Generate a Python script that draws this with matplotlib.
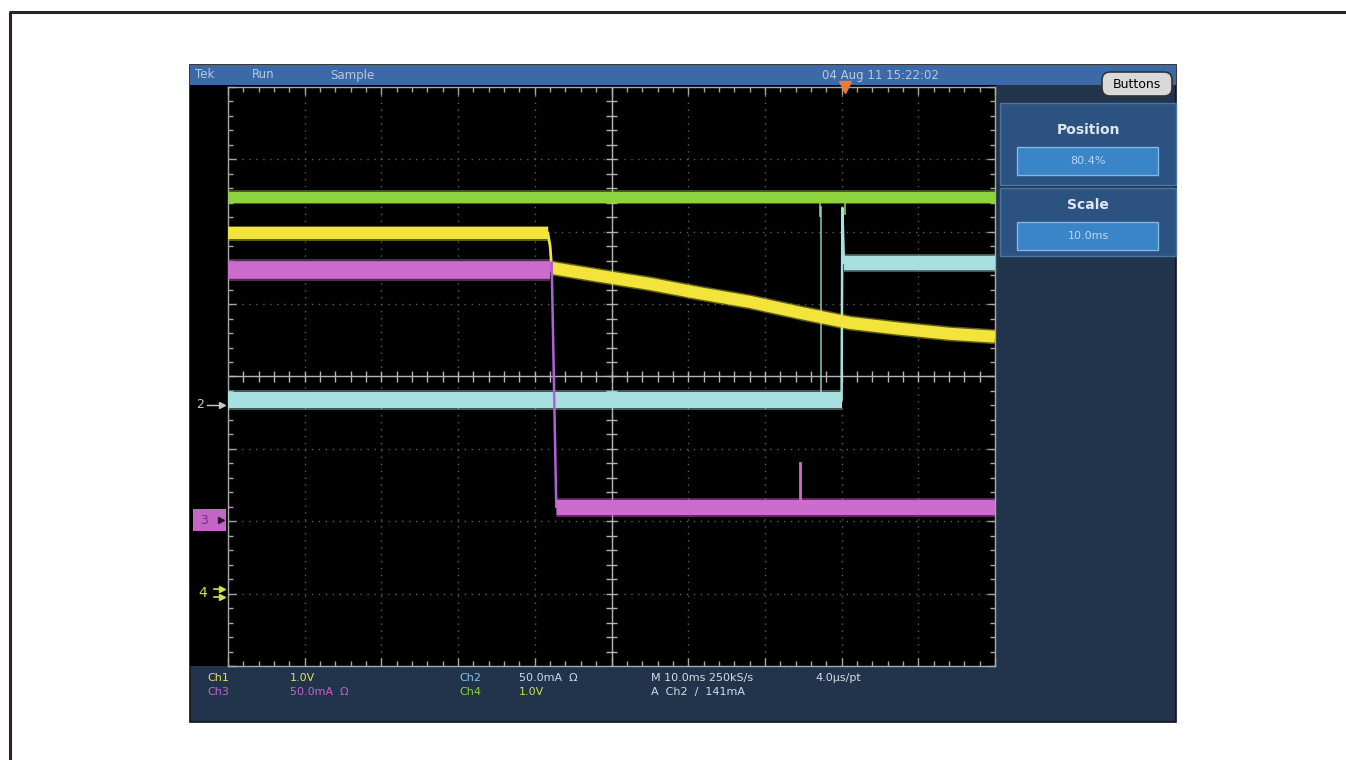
import numpy as np
import matplotlib
matplotlib.use("Agg")
import matplotlib.pyplot as plt
from matplotlib.patches import Rectangle, FancyBboxPatch
from matplotlib.ticker import MultipleLocator

plt.rcParams['font.family'] = ['DejaVu Sans']

# ---------------- data (screen divisions: x 0..10, y -4..4) ----------------
ch4_x = [0.0, 10.0]
ch4_y = [2.48, 2.48]
ch4_glitch_x = [7.72, 8.05]
ch4_glitch_y = [2.22, 2.25]

ch1_pre_x = [0.0, 4.17]
ch1_pre_y = [1.98, 1.98]
ch1_edge_x = [4.17, 4.20, 4.22]
ch1_edge_y = [1.98, 1.80, 1.50]
ch1_post_x = [4.22, 4.85, 5.50, 6.15, 6.81, 7.46, 8.11, 8.76, 9.41, 10.0]
ch1_post_y = [1.50, 1.39, 1.28, 1.15, 1.03, 0.88, 0.74, 0.66, 0.59, 0.55]

ch3_pre_x = [0.0, 4.20]
ch3_pre_y = [1.47, 1.47]
ch3_edge_x = [4.20, 4.22, 4.28]
ch3_edge_y = [1.47, 1.58, -1.80]
ch3_post_x = [4.28, 10.0]
ch3_post_y = [-1.80, -1.80]
ch3_spike_x = 7.46
ch3_spike_y = -1.19

ch2_pre_x = [0.0, 8.00]
ch2_pre_y = [-0.32, -0.32]
ch2_edge_x = [8.00, 8.01, 8.03]
ch2_edge_y = [-0.32, 2.33, 1.57]
ch2_post_x = [8.03, 10.0]
ch2_post_y = [1.57, 1.57]
ch2_glitch_x = 7.73
ch2_glitch_y = 2.34

trigger_pos = 8.04  # 80.4 % of record

# ---------------- figure ----------------
W, H = 1346, 760
fig = plt.figure(figsize=(W / 100, H / 100), dpi=100)
fig.patch.set_facecolor('white')


def frac(x0, y0, x1, y1):
    return [x0 / W, 1 - y1 / H, (x1 - x0) / W, (y1 - y0) / H]


bg = fig.add_axes([0, 0, 1, 1])
bg.set_xlim(0, W)
bg.set_ylim(H, 0)
bg.axis('off')

# page frame (left and top)
bg.plot([10, 10, W], [H, 12, 12], color='#2b2424', lw=2.2, solid_capstyle='butt')

# scope screen
bg.add_patch(Rectangle((190, 65), 986, 657, facecolor='#22344b', edgecolor='#111111', lw=1.2))
bg.add_patch(Rectangle((190, 65), 986, 20, facecolor='#3b6aa6', edgecolor='none'))
bg.add_patch(Rectangle((190, 85), 806, 581, facecolor='black', edgecolor='none'))

# top bar texts
for txt, xp in [('Tek', 195), ('Run', 252), ('Sample', 330)]:
    bg.text(xp, 75, txt, color='#b8c8e2', fontsize=8.5, va='center', ha='left')
bg.text(880, 75, '04 Aug 11 15:22:02', color='#b8c8e2', fontsize=8.5, va='center', ha='center')

# Buttons
bg.add_patch(FancyBboxPatch((1102, 72), 70, 24, boxstyle='round,pad=0,rounding_size=8',
                            facecolor='#d9d9d9', edgecolor='#333333', lw=1.2))
bg.text(1137, 84.5, 'Buttons', color='black', fontsize=9, va='center', ha='center')

# right panel sections
for (y0, y1, label, value, ly, by0) in [(103, 185, 'Position', '80.4%', 130, 147),
                                        (188, 256, 'Scale', '10.0ms', 205, 222)]:
    bg.add_patch(Rectangle((1000, y0), 176, y1 - y0, facecolor='#2c5281', edgecolor='#4a76a6', lw=1))
    bg.text(1088, ly, label, color='#dfe6ee', fontsize=10, fontweight='bold', va='center', ha='center')
    bg.add_patch(Rectangle((1017, by0), 141, 28, facecolor='#3a84c8', edgecolor='#86b6e0', lw=1))
    bg.text(1088, by0 + 14, value, color='#b8d8f4', fontsize=8, va='center', ha='center')

# bottom readouts
readouts = [
    ('Ch1', 207, 678, '#e2e05a'), ('1.0V', 290, 678, '#e2e05a'),
    ('Ch3', 207, 692, '#c462d0'), ('50.0mA  \u03a9', 290, 692, '#c462d0'),
    ('Ch2', 459, 678, '#7cc8e2'), ('50.0mA  \u03a9', 519, 678, '#c4dcf2'),
    ('Ch4', 459, 692, '#86d040'), ('1.0V', 519, 692, '#c8e060'),
    ('M 10.0ms 250kS/s', 651, 678, '#d4dce6'), ('4.0\u00b5s/pt', 815, 678, '#d4dce6'),
    ('A  Ch2  /  141mA', 651, 692, '#d4dce6'),
]
for txt, xp, yp, c in readouts:
    bg.text(xp, yp, txt, color=c, fontsize=8, va='center', ha='left')

# channel ground markers on the left
bg.text(200, 405, '2', color='#c8c8c8', fontsize=9, va='center', ha='center')
bg.plot([207, 222], [405, 405], color='#c8c8c8', lw=1)
bg.plot([222], [405], marker='>', color='#c8c8c8', ms=4)
bg.add_patch(Rectangle((193, 509), 33, 22, facecolor='#c466c8', edgecolor='none'))
bg.text(204, 520, '3', color='#7a2a80', fontsize=9, va='center', ha='center')
bg.plot([221], [520], marker='>', color='#301030', ms=4)
bg.text(203, 593, '4', color='#d4e040', fontsize=10, va='center', ha='center')
bg.plot([214, 222], [589, 589], color='#d4e040', lw=1.2)
bg.plot([214, 222], [597, 597], color='#d4e040', lw=1.2)
bg.plot([222, 222], [589, 597], ls='none', marker='>', color='#d4e040', ms=4)

# ---------------- graticule ----------------
ax = fig.add_axes(frac(228, 87, 995, 666))
ax.set_facecolor('black')
ax.set_xlim(0, 10)
ax.set_ylim(-4, 4)
for s in ax.spines.values():
    s.set_color('#a8a8a8')
    s.set_linewidth(1)
ax.xaxis.set_major_locator(MultipleLocator(1))
ax.xaxis.set_minor_locator(MultipleLocator(0.2))
ax.yaxis.set_major_locator(MultipleLocator(1))
ax.yaxis.set_minor_locator(MultipleLocator(0.2))
ax.tick_params(which='both', direction='in', colors='#a8a8a8', top=True, right=True,
               labelleft=False, labelbottom=False)
ax.tick_params(which='major', length=6, width=1)
ax.tick_params(which='minor', length=3.5, width=1)
ax.set_axisbelow(True)
ax.grid(which='major', color='#5e5e5e', linestyle=(0, (1, 4)), lw=1)

ax.axhline(0, color='#b4b4b4', lw=1, zorder=1)
ax.axvline(5, color='#b4b4b4', lw=1, zorder=1)
tx = np.arange(0.2, 10, 0.2)
ty = np.arange(-3.8, 4, 0.2)
ax.vlines(tx, -0.075, 0.075, color='#b4b4b4', lw=1, zorder=1)
ax.hlines(ty, 4.925, 5.075, color='#b4b4b4', lw=1, zorder=1)


def band(x, y, color, width_px, z):
    ax.plot(x, y, color=color, lw=width_px * 0.72, alpha=0.4, solid_capstyle='butt', zorder=z)
    ax.plot(x, y, color=color, lw=width_px * 0.72 * 0.8, solid_capstyle='butt', zorder=z + 0.1)


C_GREEN = '#8ed23e'
C_YELLOW = '#f2e43a'
C_MAGENTA = '#cc6ccc'
C_CYAN = '#a8e0e0'

# Ch4 (green)
band(ch4_x, ch4_y, C_GREEN, 14, 3)
for gx, gy in zip(ch4_glitch_x, ch4_glitch_y):
    ax.plot([gx, gx], [ch4_y[0], gy], color=C_GREEN, lw=1.2, zorder=3)

# Ch2 (cyan)
band(ch2_pre_x, ch2_pre_y, C_CYAN, 20, 4)
band(ch2_post_x, ch2_post_y, C_CYAN, 18, 4)
ax.plot(ch2_edge_x, ch2_edge_y, color=C_CYAN, lw=1.8, zorder=4)
ax.plot([ch2_glitch_x, ch2_glitch_x], [ch2_pre_y[0], ch2_glitch_y], color=C_CYAN, lw=1.2, alpha=0.8, zorder=4)

# Ch1 (yellow)
band(ch1_pre_x, ch1_pre_y, C_YELLOW, 15, 5)
ax.plot(ch1_edge_x, ch1_edge_y, color=C_YELLOW, lw=2, zorder=5)
band(ch1_post_x, ch1_post_y, C_YELLOW, 15, 5)

# Ch3 (magenta)
band(ch3_pre_x, ch3_pre_y, C_MAGENTA, 22, 6)
band(ch3_post_x, ch3_post_y, C_MAGENTA, 19, 6)
ax.plot(ch3_edge_x, ch3_edge_y, color='#b060d8', lw=1.8, zorder=6)
ax.plot([ch3_spike_x, ch3_spike_x], [ch3_post_y[0], ch3_spike_y], color=C_MAGENTA, lw=2, zorder=6)

# trigger position marker
ax.plot([trigger_pos], [4.0], marker='v', color='#f07a36', ms=8, clip_on=False, zorder=10)

fig.savefig('out.png', dpi=100, facecolor='white')
